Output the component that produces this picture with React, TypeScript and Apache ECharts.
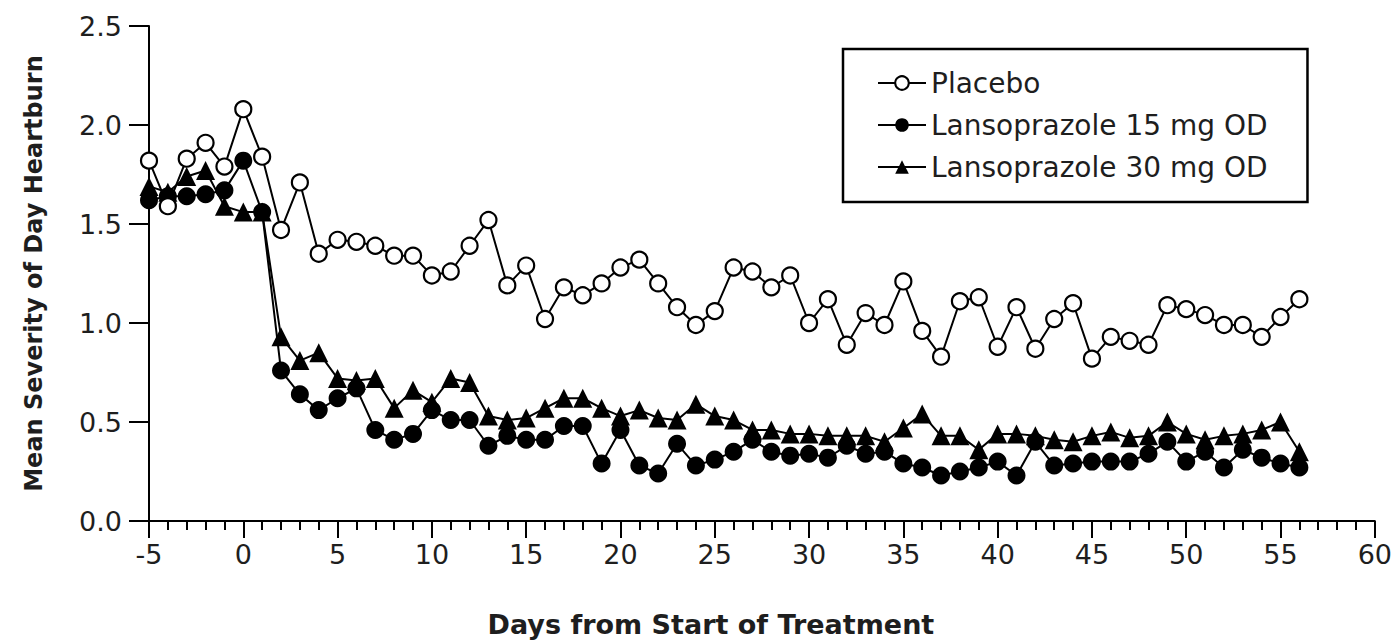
import React, { useEffect, useRef } from "react";
import * as echarts from "echarts";

const days = [
  -5, -4, -3, -2, -1, 0, 1, 2, 3, 4, 5, 6, 7, 8, 9, 10, 11, 12, 13, 14, 15, 16, 17, 18, 19, 20,
  21, 22, 23, 24, 25, 26, 27, 28, 29, 30, 31, 32, 33, 34, 35, 36, 37, 38, 39, 40, 41, 42, 43,
  44, 45, 46, 47, 48, 49, 50, 51, 52, 53, 54, 55, 56,
];

const placebo = [
  1.82, 1.59, 1.83, 1.91, 1.79, 2.08, 1.84, 1.47, 1.71, 1.35, 1.42, 1.41, 1.39, 1.34, 1.34, 1.24,
  1.26, 1.39, 1.52, 1.19, 1.29, 1.02, 1.18, 1.14, 1.2, 1.28, 1.32, 1.2, 1.08, 0.99, 1.06, 1.28,
  1.26, 1.18, 1.24, 1.0, 1.12, 0.89, 1.05, 0.99, 1.21, 0.96, 0.83, 1.11, 1.13, 0.88, 1.08, 0.87,
  1.02, 1.1, 0.82, 0.93, 0.91, 0.89, 1.09, 1.07, 1.04, 0.99, 0.99, 0.93, 1.03, 1.12,
];

const lanso15 = [
  1.62, 1.64, 1.64, 1.65, 1.67, 1.82, 1.56, 0.76, 0.64, 0.56, 0.62, 0.67, 0.46, 0.41, 0.44, 0.56,
  0.51, 0.51, 0.38, 0.43, 0.41, 0.41, 0.48, 0.48, 0.29, 0.46, 0.28, 0.24, 0.39, 0.28, 0.31, 0.35,
  0.41, 0.35, 0.33, 0.34, 0.32, 0.38, 0.34, 0.35, 0.29, 0.27, 0.23, 0.25, 0.27, 0.3, 0.23, 0.4,
  0.28, 0.29, 0.3, 0.3, 0.3, 0.34, 0.4, 0.3, 0.35, 0.27, 0.36, 0.32, 0.29, 0.27,
];

const lanso30 = [
  1.69, 1.66, 1.74, 1.77, 1.59, 1.56, 1.56, 0.93, 0.81, 0.85, 0.72, 0.71, 0.72, 0.57, 0.66, 0.6,
  0.72, 0.7, 0.53, 0.51, 0.52, 0.57, 0.62, 0.62, 0.57, 0.53, 0.56, 0.52, 0.51, 0.59, 0.53, 0.51,
  0.46, 0.46, 0.44, 0.44, 0.43, 0.43, 0.43, 0.4, 0.47, 0.54, 0.43, 0.43, 0.36, 0.44, 0.44, 0.43,
  0.41, 0.4, 0.43, 0.45, 0.42, 0.43, 0.5, 0.44, 0.41, 0.43, 0.44, 0.46, 0.5, 0.35,
];

const seriesNames = ["Placebo", "Lansoprazole 15 mg OD", "Lansoprazole 30 mg OD"];
const xTitle = "Days from Start of Treatment";
const yTitle = "Mean Severity of Day Heartburn";

const FONT = "DejaVu Sans";
const INK = "#1e1e1e";

export default function App() {
  const ref = useRef<HTMLDivElement>(null);

  useEffect(() => {
    if (!ref.current) return;
    const chart = echarts.init(ref.current, null, { renderer: "svg" });
    const pair = (vals: number[]) => days.map((d, i) => [d, vals[i]]);
    const lineStyle = { color: "#000", width: 2 };

    chart.setOption({
      animation: false,
      backgroundColor: "#fff",
      grid: { left: 149, right: 17, top: 26, bottom: 121 },
      legend: {
        orient: "vertical",
        left: 843,
        top: 49,
        padding: [19, 40, 20, 34],
        itemGap: 12,
        itemWidth: 48,
        itemHeight: 17,
        borderColor: "#000",
        borderWidth: 2.5,
        backgroundColor: "#fff",
        textStyle: { fontFamily: FONT, fontSize: 28, color: INK, lineHeight: 30 },
        data: seriesNames,
      },
      xAxis: {
        type: "value",
        min: -5,
        max: 60,
        interval: 5,
        axisLine: { show: true, onZero: false, lineStyle: { color: "#000", width: 2 } },
        axisTick: { show: true, length: 17, lineStyle: { color: "#000", width: 2 } },
        minorTick: { show: true, splitNumber: 5, length: 9, lineStyle: { color: "#000", width: 2 } },
        splitLine: { show: false },
        axisLabel: { fontFamily: FONT, fontSize: 27, color: INK, margin: 20 },
        name: xTitle,
        nameLocation: "middle",
        nameGap: 90,
        nameTextStyle: {
          fontFamily: FONT,
          fontWeight: "bold",
          fontSize: 27,
          color: INK,
          padding: [0, 102, 0, 0],
        },
      },
      yAxis: {
        type: "value",
        min: 0,
        max: 2.5,
        interval: 0.5,
        axisLine: { show: true, onZero: false, lineStyle: { color: "#000", width: 2 } },
        axisTick: { show: true, length: 20, lineStyle: { color: "#000", width: 2 } },
        splitLine: { show: false },
        axisLabel: {
          fontFamily: FONT,
          fontSize: 27,
          color: INK,
          margin: 27,
          formatter: (v: number) => v.toFixed(1),
        },
        name: yTitle,
        nameLocation: "middle",
        nameGap: 103,
        nameTextStyle: { fontFamily: FONT, fontWeight: "bold", fontSize: 24, color: INK },
      },
      series: [
        {
          name: seriesNames[2],
          type: "line",
          data: pair(lanso30),
          symbol: "triangle",
          symbolSize: 19,
          itemStyle: { color: "#000" },
          lineStyle,
          z: 2,
        },
        {
          name: seriesNames[1],
          type: "line",
          data: pair(lanso15),
          symbol: "circle",
          symbolSize: 18,
          itemStyle: { color: "#000" },
          lineStyle,
          z: 3,
        },
        {
          name: seriesNames[0],
          type: "line",
          data: pair(placebo),
          symbol: "circle",
          symbolSize: 16,
          showAllSymbol: true,
          itemStyle: { color: "#fff", borderColor: "#000", borderWidth: 2.2 },
          lineStyle,
          z: 4,
        },
      ],
    });
    return () => chart.dispose();
  }, []);

  return (
    <div
      ref={ref}
      style={{ position: "absolute", left: 0, top: 0, width: 1395, height: 643 }}
    />
  );
}
